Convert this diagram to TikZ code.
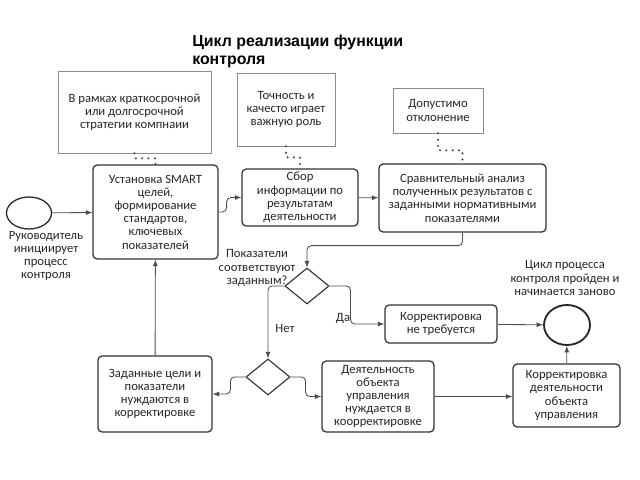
\documentclass[tikz,border=0pt]{standalone}
\usepackage{fontspec}
\setmainfont{Carlito}
\newfontfamily\titlefont{Liberation Sans}
\usepackage{xcolor}
\usepackage{tikz}
\usetikzlibrary{shapes.geometric}

\begin{document}
\begin{tikzpicture}[x=0.025cm, y=-0.025cm, >=latex,
    box/.style={draw=black!80, rectangle, rounded corners=3pt, line width=0.9pt, align=center,
        inner sep=1pt, text=black!85, font=\fontsize{9}{9.4}\selectfont},
    note/.style={draw=black!45, rectangle, line width=0.5pt, align=center,
        inner sep=1pt, text=black!85, font=\fontsize{9}{9.4}\selectfont},
    decision/.style={draw=black!80, diamond, line width=0.8pt, inner sep=0pt,
        minimum width=1.1cm, minimum height=0.9cm},
    event/.style={draw=black!85, ellipse, inner sep=0pt},
    label/.style={align=center, inner sep=0pt, text=black!85, font=\fontsize{9}{9.4}\selectfont},
    flow/.style={->, draw=black!70, line width=0.6pt, rounded corners=3pt},
    link/.style={draw=black!75, line width=1.6pt, line cap=round, dash pattern=on 0pt off 4.5pt}]
    \useasboundingbox (0,0) rectangle (640,480);

    \node[anchor=north west, align=left, inner sep=0pt,
        font=\titlefont\bfseries\fontsize{11.3}{12.7}\selectfont] (title) at (192,35)
        {Цикл реализации функции\\контроля};

    \node[note, minimum width=3.825cm, minimum height=2.05cm] (n1) at (134.5,112)
        {В рамках краткосрочной\\или долгосрочной\\стратегии компнаии};
    \node[note, minimum width=2.45cm, minimum height=1.825cm] (n2) at (286,109.5)
        {Точность и\\качесто играет\\важную роль};
    \node[note, minimum width=2.25cm, minimum height=1.125cm] (n3) at (438,110.5)
        {Допустимо\\отклонение};

    \node[event, line width=0.9pt, minimum width=1.125cm, minimum height=0.8cm] (start) at (29,213) {};
    \node[label] (startlbl) at (46,256) {Руководитель\\инициирует\\процесс\\контроля};

    \node[box, minimum width=3.125cm, minimum height=2.35cm] (smart) at (155.5,212)
        {Установка SMART\\целей,\\формирование\\стандартов,\\ключевых\\показателей};
    \node[box, minimum width=2.9cm, minimum height=1.425cm] (sbor) at (300,197.5)
        {Сбор\\информации по\\результатам\\деятельности};
    \node[box, minimum width=4.175cm, minimum height=1.7cm] (srav) at (462.5,198)
        {Сравнительный анализ\\полученных результатов с\\заданными нормативными\\показателями};

    \node[decision] (d1) at (307,286) {};
    \node[label] (d1lbl) at (257,268) {Показатели\\соответствуют\\заданным?};

    \node[box, minimum width=2.8cm, minimum height=0.95cm] (ok) at (441,324)
        {Корректировка\\не требуется};
    \node[event, line width=1.3pt, minimum width=1.15cm, minimum height=1cm] (end) at (567,325) {};
    \node[label] (endlbl) at (565,278) {Цикл процесса\\контроля пройден и\\начинается заново};

    \node[decision] (d2) at (268,377) {};
    \node[box, minimum width=2.8cm, minimum height=1.775cm] (act) at (378,396.5)
        {Деятельность\\объекта\\управления\\нуждается в\\коорректировке};
    \node[box, minimum width=2.675cm, minimum height=1.575cm] (fix) at (566.5,395.5)
        {Корректировка\\деятельности\\объекта\\управления};
    \node[box, minimum width=2.85cm, minimum height=1.9cm] (goal) at (155,394)
        {Заданные цели и\\показатели\\нуждаются в\\корректировке};

    \node[label] (yes) at (343,318) {Да};
    \node[label] (no) at (285,328) {Нет};

    \draw[link] (n1.south) -- ++(0,5) -| (smart.north);
    \draw[link] (n2.south) -- ++(0,11) -| (sbor.north);
    \draw[link] (n3.south) -- ++(0,17) -| (srav.north);

    \draw[flow] (start) -- (smart);
    \draw[flow] (smart.east) -- ++(8,0) |- (sbor.west);
    \draw[flow] (sbor) -- (srav);
    \draw[flow] (srav.south) -- ++(0,13) -| (d1.north);
    \draw[flow] (d1.east) -- ++(21,0) |- (ok.west);
    \draw[flow] (ok) -- (end);
    \draw[flow] (d1.west) -| (d2.north);
    \draw[flow] (d2.east) -- ++(15,0) |- (act.west);
    \draw[flow] (d2.west) -- ++(-15,0) |- (goal.east);
    \draw[flow] (act.east) -- (act.east -| fix.west);
    \draw[flow] (fix) -- (end);
    \draw[flow] (goal) -- (smart);
\end{tikzpicture}
\end{document}
